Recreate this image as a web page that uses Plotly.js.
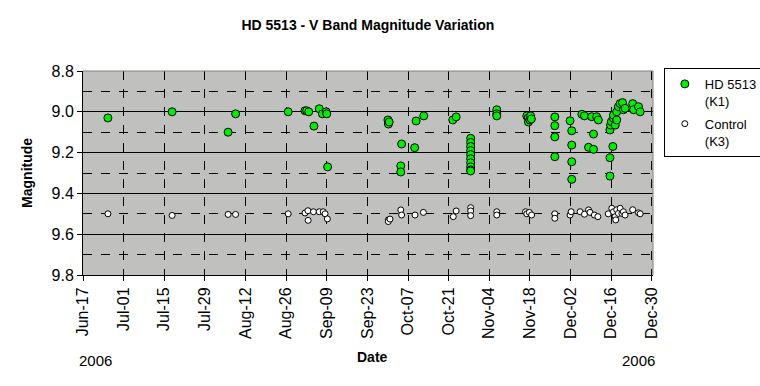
<!DOCTYPE html>
<html>
<head>
<meta charset="utf-8">
<script src="https://cdn.plot.ly/plotly-3.0.1.min.js"></script>
<style>html,body{margin:0;padding:0;background:#fff;}#chart{width:760px;height:386px;}</style>
</head>
<body>
<div id="chart"></div>
<script>
const hdDates = [
 '2006-06-25 14:00','2006-07-17 17:00','2006-08-06 00:00','2006-08-08 14:00','2006-08-26 17:00',
 '2006-09-01 12:00','2006-09-02 02:00','2006-09-02 19:00','2006-09-04 14:00','2006-09-06 10:00',
 '2006-09-07 12:00','2006-09-08 19:00','2006-09-09 00:00','2006-09-09 07:00',
 '2006-09-30 02:00','2006-09-30 06:00','2006-09-30 12:00',
 '2006-10-04 12:00','2006-10-04 12:00','2006-10-04 19:00','2006-10-09 07:00','2006-10-09 19:00','2006-10-12 10:00',
 '2006-10-22 10:00','2006-10-23 14:00',
 '2006-10-28 14:00','2006-10-28 14:00','2006-10-28 14:00','2006-10-28 14:00','2006-10-28 14:00',
 '2006-10-28 14:00','2006-10-28 14:00','2006-10-28 14:00','2006-10-28 14:00','2006-10-28 14:00',
 '2006-11-06 14:00','2006-11-06 14:00','2006-11-06 14:00',
 '2006-11-16 22:00','2006-11-17 10:00','2006-11-17 12:00','2006-11-18 00:00','2006-11-18 06:00','2006-11-18 12:00',
 '2006-11-26 14:00','2006-11-26 14:00','2006-11-26 14:00','2006-11-26 14:00',
 '2006-12-01 20:00','2006-12-02 10:00','2006-12-02 10:00','2006-12-02 10:00','2006-12-02 10:00',
 '2006-12-05 22:00','2006-12-06 19:00','2006-12-08 05:00','2006-12-09 07:00','2006-12-09 22:00','2006-12-09 22:00',
 '2006-12-11 00:00','2006-12-11 14:00',
 '2006-12-15 14:00','2006-12-15 14:00','2006-12-15 14:00','2006-12-15 19:00','2006-12-16 02:00','2006-12-16 14:00',
 '2006-12-16 19:00','2006-12-16 19:00','2006-12-17 10:00','2006-12-17 22:00','2006-12-17 22:00',
 '2006-12-18 12:00','2006-12-19 02:00','2006-12-19 22:00','2006-12-20 05:00','2006-12-20 19:00',
 '2006-12-23 10:00','2006-12-23 17:00','2006-12-25 10:00','2006-12-26 00:00'
];
const hdMag = [
 9.03, 9.00, 9.10, 9.01, 9.00,
 8.995, 8.995, 9.00, 9.07, 8.985,
 9.01, 9.00, 9.01, 9.27,
 9.04, 9.06, 9.05,
 9.265, 9.295, 9.158, 9.176, 9.045, 9.02,
 9.04, 9.025,
 9.13, 9.15, 9.17, 9.19, 9.21,
 9.23, 9.25, 9.27, 9.285, 9.29,
 8.99, 9.01, 9.02,
 9.02, 9.03, 9.05, 9.04, 9.02, 9.035,
 9.025, 9.068, 9.123, 9.22,
 9.044, 9.093, 9.163, 9.245, 9.331,
 9.012, 9.02, 9.174, 9.024, 9.109, 9.184,
 9.024, 9.04,
 9.089, 9.225, 9.315, 9.065, 9.048, 9.17,
 9.032, 9.016, 9.065, 9.00, 9.04,
 8.975, 8.96, 8.955, 8.99, 8.983,
 8.96, 8.99, 8.975, 9.00
];
const ctlDates = [
 '2006-06-25 14:00','2006-07-17 17:00','2006-08-06 00:00','2006-08-08 14:00','2006-08-26 17:00',
 '2006-09-01 12:00','2006-09-02 12:00','2006-09-02 14:00','2006-09-04 10:00','2006-09-06 10:00',
 '2006-09-07 19:00','2006-09-08 10:00','2006-09-09 05:00',
 '2006-09-30 05:00','2006-09-30 05:00','2006-09-30 19:00',
 '2006-10-04 12:00','2006-10-04 19:00','2006-10-09 10:00','2006-10-12 07:00',
 '2006-10-22 14:00','2006-10-23 14:00',
 '2006-10-28 14:00','2006-10-28 14:00','2006-10-28 14:00',
 '2006-11-06 14:00','2006-11-06 14:00',
 '2006-11-16 12:00','2006-11-16 22:00','2006-11-17 19:00','2006-11-18 14:00',
 '2006-11-26 14:00','2006-11-26 14:00',
 '2006-12-01 20:00','2006-12-02 05:00','2006-12-05 07:00','2006-12-06 19:00','2006-12-08 05:00',
 '2006-12-08 17:00','2006-12-10 05:00','2006-12-11 10:00',
 '2006-12-15 00:00','2006-12-16 05:00','2006-12-16 19:00','2006-12-17 10:00','2006-12-17 14:00',
 '2006-12-17 22:00','2006-12-18 12:00','2006-12-19 02:00','2006-12-19 17:00','2006-12-20 05:00',
 '2006-12-20 19:00','2006-12-23 10:00','2006-12-25 10:00','2006-12-26 00:00'
];
const ctlMag = [
 9.50, 9.508, 9.503, 9.503, 9.50,
 9.496, 9.485, 9.532, 9.49, 9.49,
 9.49, 9.50, 9.525,
 9.53, 9.538, 9.526,
 9.481, 9.506, 9.506, 9.493,
 9.514, 9.486,
 9.47, 9.486, 9.509,
 9.49, 9.506,
 9.49, 9.50, 9.493, 9.506,
 9.50, 9.522,
 9.506, 9.49, 9.49, 9.502, 9.481,
 9.493, 9.506, 9.514,
 9.50, 9.473, 9.49, 9.514, 9.53,
 9.48, 9.498, 9.473, 9.498, 9.49,
 9.506, 9.48, 9.495, 9.50
];
const seriesNames = ['HD 5513<br>(K1)', 'Control<br>(K3)'];
const chartTitle = 'HD 5513 - V Band Magnitude Variation';
const yTitle = 'Magnitude';
const xTitle = 'Date';
const yearLabel = '2006';

const F = 'Arial, "Liberation Sans", sans-serif';
const traces = [
  {x: hdDates, y: hdMag, type: 'scatter', mode: 'markers', name: seriesNames[0], legendgroup: 'a',
   marker: {color: '#00ee00', size: 8, line: {color: '#000', width: 1}}},
  {x: ctlDates, y: ctlMag, type: 'scatter', mode: 'markers', name: seriesNames[1], legendgroup: 'b',
   marker: {color: '#ffffff', size: 6, line: {color: '#000', width: 1}}}
];
const layout = {
  width: 760, height: 386,
  margin: {l: 83, r: 107, t: 71, b: 111, autoexpand: false},
  paper_bgcolor: '#ffffff', plot_bgcolor: '#c0c1bf',
  font: {family: F, color: '#000', size: 16},
  title: {text: '<b>' + chartTitle + '</b>', font: {family: F, size: 14, color: '#000'},
          x: 0.484, xanchor: 'center', y: 1 - 25/386, yanchor: 'middle'},
  showlegend: true,
  legend: {x: 1.019, xanchor: 'left', y: 1.015, yanchor: 'top', bgcolor: '#fff', valign: 'top',
           bordercolor: '#000', borderwidth: 1, font: {family: F, size: 13, color: '#000'},
           tracegroupgap: 3, itemwidth: 30},
  xaxis: {type: 'date', range: ['2006-06-17', '2006-12-30 10:00'],
          tick0: '2006-06-17', dtick: 14*86400000, tickformat: '%b-%d', tickangle: -90,
          ticks: 'outside', ticklen: 5, tickcolor: '#000', showline: true, linecolor: '#000', linewidth: 1,
          showgrid: true, gridcolor: '#000', gridwidth: 1, griddash: 'dash', zeroline: false,
          tickfont: {family: F, size: 16}, fixedrange: true},
  yaxis: {range: [9.8, 8.8], dtick: 0.2, tick0: 8.8, tickformat: '.1f',
          ticks: 'outside', ticklen: 5, tickcolor: '#000', showline: true, linecolor: '#000', linewidth: 1,
          showgrid: true, gridcolor: '#000', gridwidth: 1, zeroline: false,
          minor: {dtick: 0.1, showgrid: true, gridcolor: '#000', gridwidth: 1, griddash: 'dash', ticks: ''},
          tickfont: {family: F, size: 16}, fixedrange: true},
  shapes: [
    {type: 'line', xref: 'paper', yref: 'paper', x0: 0, x1: 1, y0: 1, y1: 1, line: {color: '#808080', width: 1}, layer: 'above'},
    {type: 'line', xref: 'paper', yref: 'paper', x0: 1, x1: 1, y0: 0, y1: 1, line: {color: '#808080', width: 1}, layer: 'above'}
  ],
  annotations: [
    {text: '<b>' + xTitle + '</b>', xref: 'paper', yref: 'paper', x: (372-83)/569, y: (275-357)/204,
     showarrow: false, xanchor: 'center', yanchor: 'middle', font: {family: F, size: 14}},
    {text: yearLabel, xref: 'paper', yref: 'paper', x: (77-83)/569, y: (275-360)/204,
     showarrow: false, xanchor: 'left', yanchor: 'middle', font: {family: F, size: 15}},
    {text: yearLabel, xref: 'paper', yref: 'paper', x: (656-83)/569, y: (275-360)/204,
     showarrow: false, xanchor: 'right', yanchor: 'middle', font: {family: F, size: 15}},
    {text: '<b>' + yTitle + '</b>', xref: 'paper', yref: 'paper', x: (27-83)/569, y: (275-173)/204,
     showarrow: false, textangle: -90, xanchor: 'center', yanchor: 'middle', font: {family: F, size: 14}}
  ]
};
Plotly.newPlot('chart', traces, layout, {displayModeBar: false, staticPlot: true});
</script>
</body>
</html>
